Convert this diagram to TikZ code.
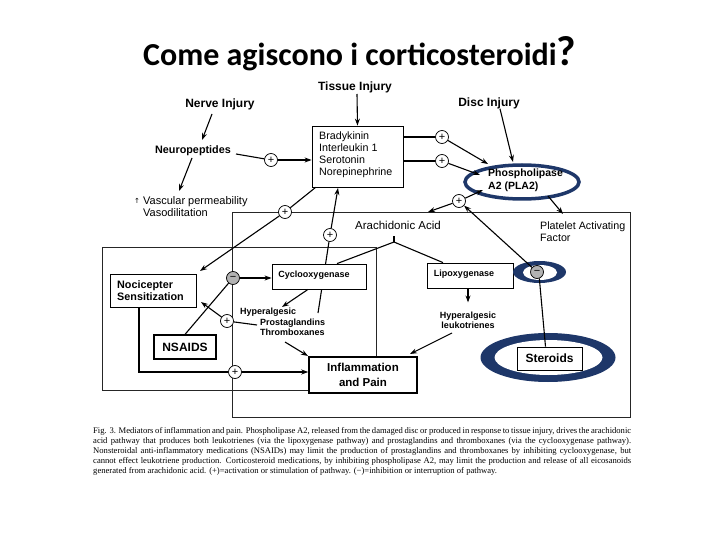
\documentclass[tikz,border=0pt]{standalone}
\usepackage{fontspec}
\setmainfont{Liberation Sans}
\newfontfamily\titlefont{Carlito}
\newfontfamily\capfont{Liberation Serif}
\newfontfamily\symfont{DejaVu Sans}
\usetikzlibrary{arrows.meta,shapes.geometric}
\definecolor{navy}{RGB}{30,55,105}
\pgfdeclarelayer{bg}
\pgfsetlayers{bg,main}
\begin{document}
\begin{tikzpicture}[x=1pt,y=-1pt,
  hd/.style={font=\bfseries\fontsize{12}{14}\selectfont, inner sep=0pt},
  hdm/.style={font=\bfseries\fontsize{10.8}{12}\selectfont, inner sep=0pt, align=left},
  rg/.style={font=\fontsize{10.7}{12}\selectfont, inner sep=0pt, align=left},
  sm/.style={font=\bfseries\fontsize{9}{10.5}\selectfont, inner sep=0pt, align=left},
  box/.style={draw, line width=0.8pt, fill=white, inner sep=0pt},
  frame/.style={draw=black!85, line width=0.7pt},
  pc/.style={circle, draw, fill=white, line width=0.7pt, minimum size=13pt, inner sep=0pt, font=\fontsize{11}{11}\selectfont},
  mc/.style={pc, fill=black!30},
  arr/.style={line width=1.1pt, -{Stealth[length=7pt,width=5pt]}},
  ln/.style={line width=1.1pt},
  captxt/.style={font=\capfont\fontsize{8.6}{9}\selectfont, inner sep=0pt, anchor=west, text height=5.5pt, text depth=1.5pt}]
\useasboundingbox (0,0) rectangle (720,540);
% title
\node[anchor=base west, inner sep=0pt, font=\titlefont\bfseries\fontsize{32}{34}\selectfont] (title) at (143,66) {Come agiscono i corticosteroidi{\fontsize{42}{42}\selectfont ?}};
% frames
\begin{pgfonlayer}{bg}
\node[frame, minimum width=398pt, minimum height=205pt, inner sep=0pt] (frameR) at (431,314.5) {};
\node[frame, minimum width=274pt, minimum height=143pt, inner sep=0pt] (frameL) at (239,318.5) {};
\end{pgfonlayer}
% headings
\node[hd] (tissue) at (355,87) {Tissue Injury};
\node[hd] (disc) at (489,103) {Disc Injury};
\node[hd] (nerve) at (220,104) {Nerve Injury};
\node[hdm] (neuro) at (193,151) {Neuropeptides};
\node[box, minimum width=91pt, minimum height=61pt] (brady) at (357.5,156.5) {};
\node[rg, anchor=west] (bradytxt) at (319,154.5) {Bradykinin\\Interleukin 1\\Serotonin\\Norepinephrine};
\node[rg, font=\fontsize{11}{12}\selectfont, anchor=west] (vasc) at (143,207) {Vascular permeability\\Vasodilitation};
\node[font=\symfont\fontsize{7}{7}\selectfont, inner sep=0pt] (up) at (137,201) {↑};
% PLA2
\node[draw=navy, line width=3.5pt, ellipse, minimum width=114pt, minimum height=34pt, inner sep=0pt] (pla2) at (522,182) {};
\node[hdm, font=\bfseries\fontsize{10.5}{13}\selectfont, anchor=west] (pla2txt) at (488,180) {Phospholipase\\A2 (PLA2)};
\node[rg, font=\fontsize{11.5}{13}\selectfont] (aa) at (398,225) {Arachidonic Acid};
\node[rg, anchor=west] (paf) at (540,232) {Platelet Activating\\Factor};
% cox / lox
\node[box, minimum width=94pt, minimum height=25pt] (cox) at (319,276.5) {};
\node[sm] (coxtxt) at (314,275.5) {Cyclooxygenase};
\node[box, minimum width=86pt, minimum height=25pt] (lox) at (470,275.5) {};
\node[sm] (loxtxt) at (464,274) {Lipoxygenase};
\node[sm, align=center] (leuk) at (468,320.5) {Hyperalgesic\\leukotrienes};
% left
\node[box, minimum width=86pt, minimum height=33pt] (noci) at (153,290.5) {};
\node[hdm, anchor=west] (nocitxt) at (117,291) {Nocicepter\\Sensitization};
\node[box, line width=1.2pt, minimum width=62pt, minimum height=24pt, font=\bfseries\fontsize{12}{14}\selectfont] (nsaids) at (185,347) {NSAIDS};
\node[sm, anchor=north west] (prost) at (240,308) {Hyperalgesic\\\hspace*{20pt}Prostaglandins\\\hspace*{20pt}Thromboxanes};
\node[box, line width=1.5pt, minimum width=108pt, minimum height=36pt, align=center, font=\bfseries\fontsize{11.5}{15}\selectfont] (inflam) at (363,375) {Inflammation\\and Pain};
% steroids
\fill[navy] (548,357.5) ellipse [x radius=67.5pt, y radius=24.5pt];
\fill[white] (548.5,357.5) ellipse [x radius=54pt, y radius=17.5pt];
\node[box, minimum width=65pt, minimum height=23pt, font=\bfseries\fontsize{12}{14}\selectfont] (ster) at (549.5,358.5) {Steroids};
\fill[navy] (539.5,272) ellipse [x radius=26.5pt, y radius=11pt];
\fill[white] (540,272.5) ellipse [x radius=17pt, y radius=7.5pt];
\node[mc] (m2) at (537,272) {−};
% circles
\node[pc] (p1) at (442,137) {+};
\node[pc] (p2) at (442,161) {+};
\node[pc] (p3) at (459,201) {+};
\node[pc] (p4) at (271,160) {+};
\node[pc] (p5) at (285,212) {+};
\node[pc] (p6) at (330,235) {+};
\node[pc] (p7) at (227,321) {+};
\node[pc] (p8) at (235,372) {+};
\node[mc] (m1) at (233,278) {−};
% coordinates
\coordinate (ct) at (357,94);
\coordinate (cd) at (513,162);
\coordinate (cp1) at (488,164);
\coordinate (cp2) at (480,175);
\coordinate (cpla) at (483,190);
\coordinate (caa) at (428,212);
\coordinate (cpla3) at (548,196);
\coordinate (cpaf) at (563,214);
\coordinate (br) at (394,242);
\coordinate (cl1) at (452,333);
\coordinate (cl2) at (410,354);
\coordinate (cn0) at (212,114);
\coordinate (cn1) at (202,140);
\coordinate (cv0) at (192,158);
\coordinate (cv1) at (179,191);
\coordinate (cnoc1) at (200,271);
\coordinate (cpr0) at (318,313);
\coordinate (cb2) at (338,188);
\coordinate (cc2) at (282,307);
\coordinate (cpr1) at (257,325);
\coordinate (cn2) at (201,302);
\coordinate (cpr2) at (285,342);
\coordinate (ci1) at (308,356);
% connectors
\draw[arr] (ct) -- (brady.north);
\draw[arr] ([xshift=11pt]disc.south) -- (cd);
\draw[ln] (brady.east |- p1) -- (p1);
\draw[arr] (p1) -- (cp1);
\draw[ln] (brady.east |- p2) -- (p2);
\draw[arr] (p2) -- (cp2);
\draw[arr] (p3) -- (cpla);
\draw[arr] (p3) -- (caa);
\draw[arr] (cpla3) -- (cpaf);
\draw[ln] (br) -- ++(0,-6);
\draw[ln] (br) -- ([xshift=18pt]cox.north);
\draw[ln] (br) -- ([xshift=-27pt]lox.north);
\draw[arr] ([xshift=-2pt]lox.south) -- ++(0,14);
\draw[arr] (cl1) -- (cl2);
\draw[arr] (cn0) -- (cn1);
\draw[ln] ([xshift=5pt,yshift=-3pt]neuro.east) -- (p4);
\draw[arr] (p4) -- (brady.west |- p4);
\draw[arr] (cv0) -- (cv1);
\draw[ln] ([xshift=4pt]brady.south west) -- (p5);
\draw[arr] (p5) -- (cnoc1);
\begin{pgfonlayer}{bg}
\draw[ln] (cpr0) -- (p6);
\end{pgfonlayer}
\draw[arr] (p6) -- (cb2);
\draw[arr] (m1) -- (cox.west |- m1);
\draw[ln] (nsaids.north) -- (m1);
\draw[arr] ([xshift=-11pt]cox.south) -- (cc2);
\draw[ln] (cpr1) -- (p7);
\draw[arr] (p7) -- (cn2);
\draw[arr] (cpr2) -- (ci1);
\draw[ln] ([xshift=-14pt]noci.south) |- (p8.west);
\draw[arr] (p8) -- (inflam.west |- p8);
\draw[ln] ([xshift=-4pt]ster.north) -- (m2.-70);
\draw[arr] (m2) -- (p3);
% caption
\node[captxt] (cap1) at (93,431) {\makebox[538pt][s]{Fig. 3. Mediators of inflammation and pain. Phospholipase A2, released from the damaged disc or produced in response to tissue injury, drives the arachidonic}};
\node[captxt] (cap2) at (93,441) {\makebox[538pt][s]{acid pathway that produces both leukotrienes (via the lipoxygenase pathway) and prostaglandins and thromboxanes (via the cyclooxygenase pathway).}};
\node[captxt] (cap3) at (93,451) {\makebox[538pt][s]{Nonsteroidal anti-inflammatory medications (NSAIDs) may limit the production of prostaglandins and thromboxanes by inhibiting cyclooxygenase, but}};
\node[captxt] (cap4) at (93,461) {\makebox[538pt][s]{cannot effect leukotriene production. Corticosteroid medications, by inhibiting phospholipase A2, may limit the production and release of all eicosanoids}};
\node[captxt] (cap5) at (93,471) {generated from arachidonic acid. (+)=activation or stimulation of pathway. (−)=inhibition or interruption of pathway.};
\end{tikzpicture}
\end{document}
